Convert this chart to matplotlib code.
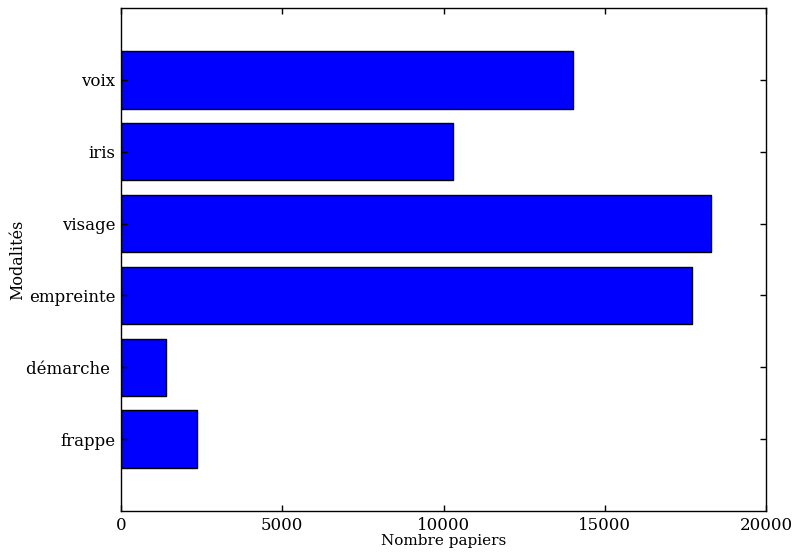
import matplotlib
matplotlib.use('Agg')
import matplotlib.pyplot as plt

categories = ['frappe', 'démarche ', 'empreinte', 'visage', 'iris', 'voix']
papers = [2350, 1400, 17700, 18300, 10300, 14000]

plt.rcParams['font.family'] = ['DejaVu Serif']

fig = plt.figure(figsize=(7.93, 5.53), dpi=100, facecolor='white')
ax = fig.add_axes([0.1526, 0.076, 0.8134, 0.9095])

pos = list(range(len(categories)))
ax.barh(pos, papers, height=0.8, align='center', color='#0000ff', edgecolor='black', linewidth=1)

ax.set_xlim(0, 20000)
ax.set_ylim(-1, len(categories))
ax.set_xticks([0, 5000, 10000, 15000, 20000])
ax.set_yticks(pos)
ax.set_yticklabels(categories)

ax.tick_params(direction='in', top=True, right=True, length=4, width=1, labelsize=12, pad=4)
ax.set_xlabel('Nombre papiers', fontsize=11, labelpad=0)
ax.set_ylabel('Modalités', fontsize=11.5, labelpad=0)
for spine in ax.spines.values():
    spine.set_linewidth(1)

fig.savefig('out.png', dpi=100, facecolor='white')
